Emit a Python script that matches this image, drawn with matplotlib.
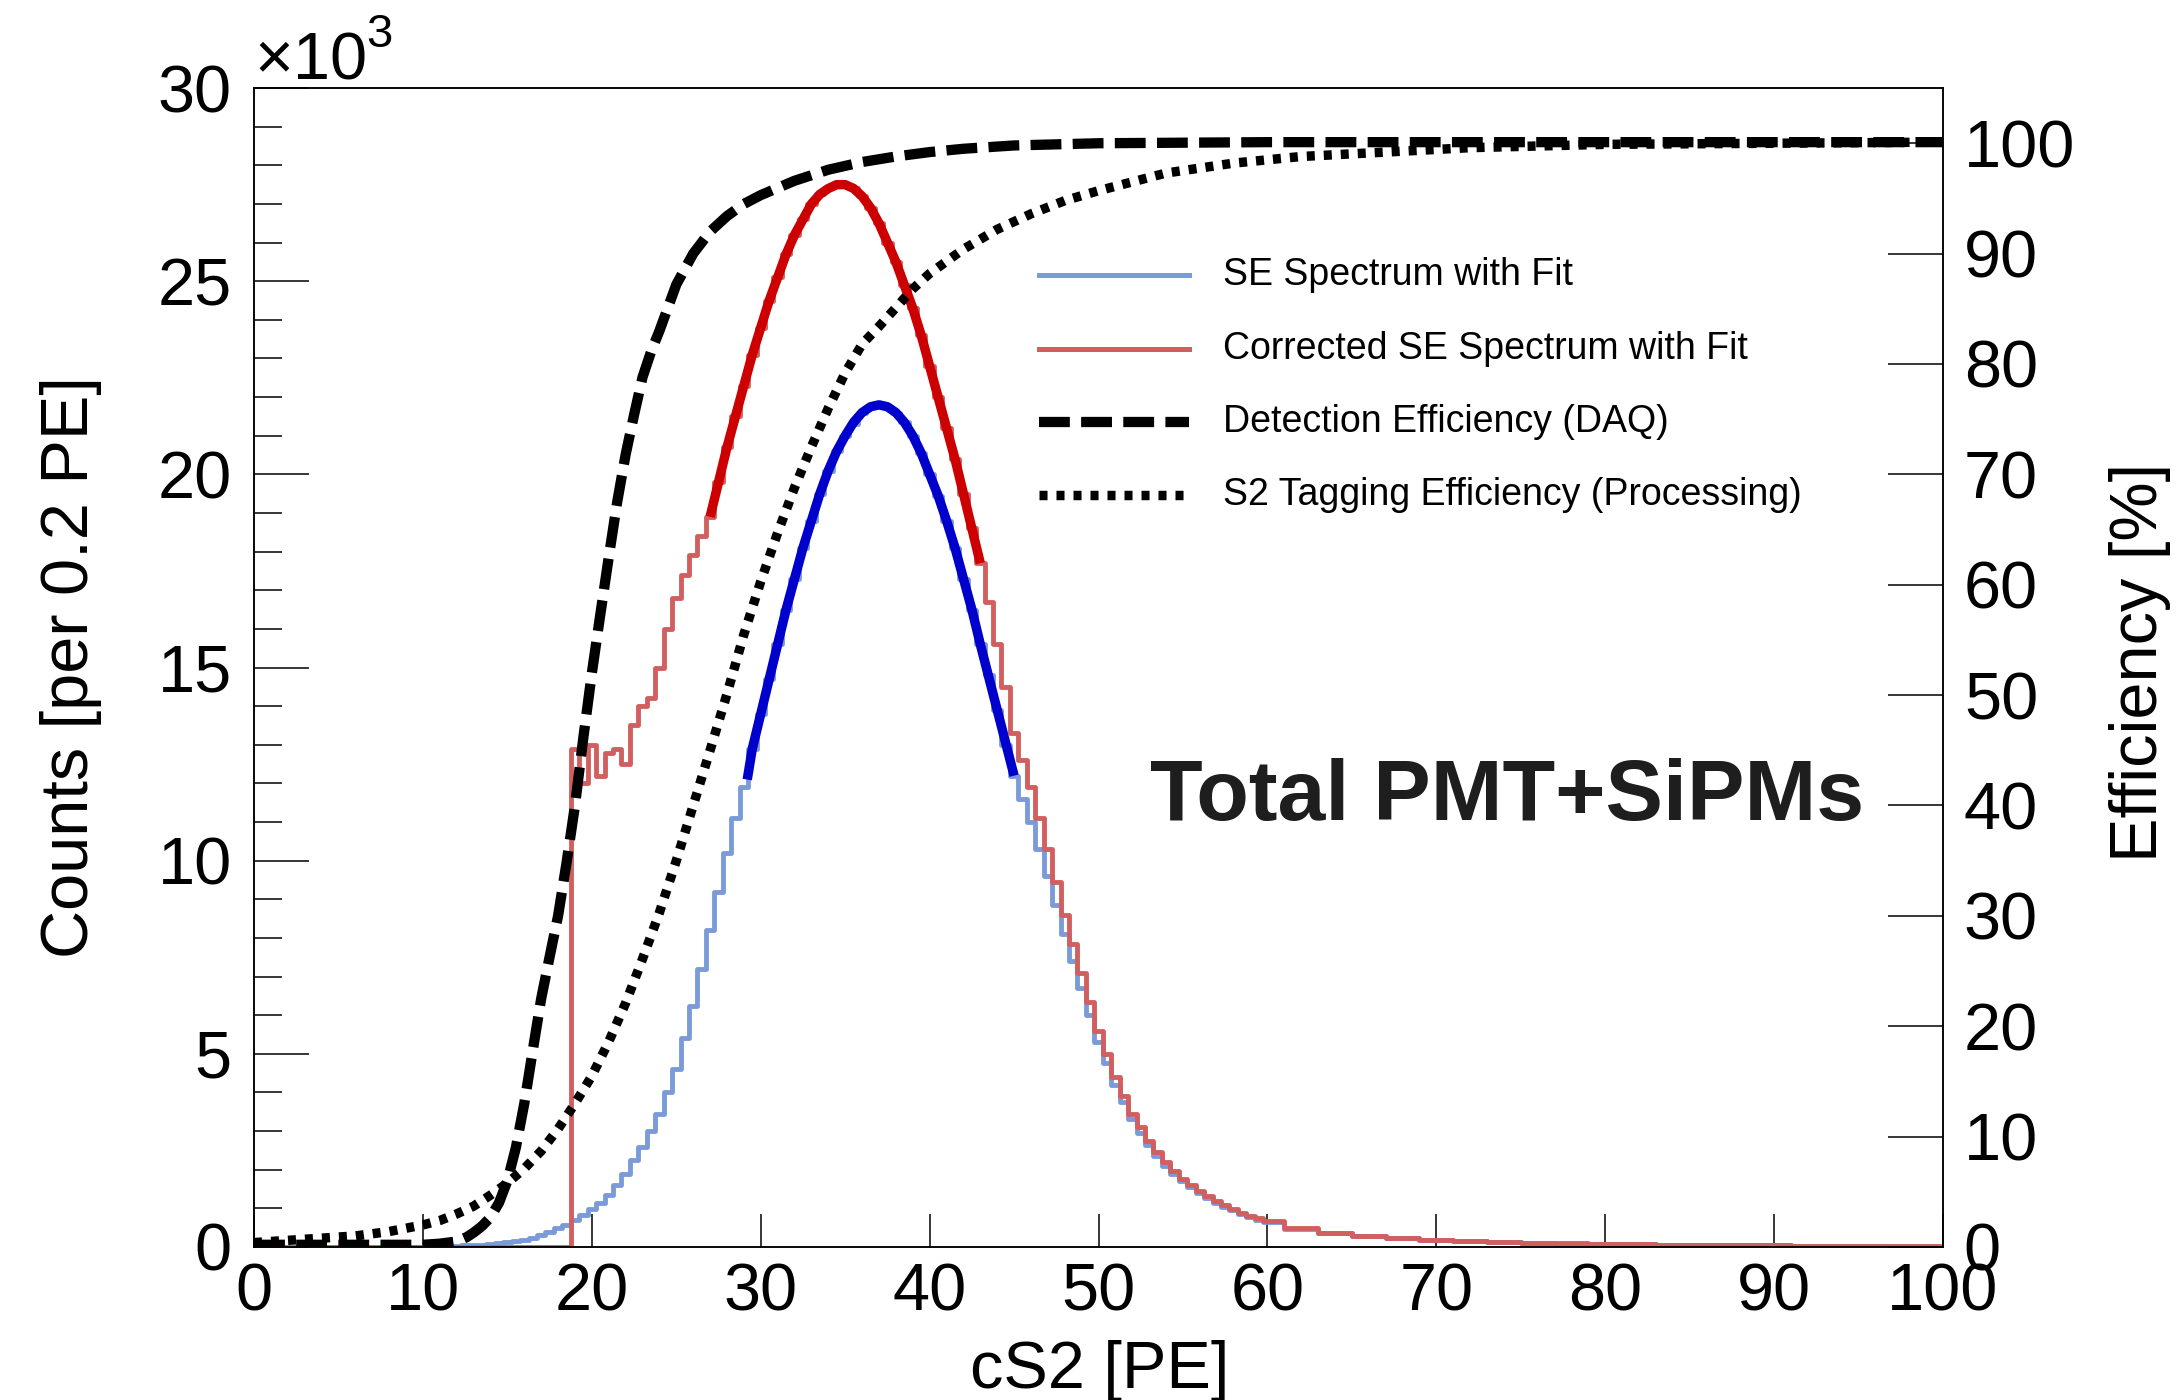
import numpy as np
import matplotlib
matplotlib.use("Agg")
import matplotlib.pyplot as plt
from matplotlib.lines import Line2D

plt.rcParams["font.family"] = ["Liberation Sans", "DejaVu Sans"]

# bin centres in PE: 1 PE steps below 12, 0.5 PE up to 60, 2 PE in the tail
cs2_bins = np.concatenate([np.arange(0, 12, 1.0),
                           np.arange(12, 60.01, 0.5),
                           np.arange(62, 100.01, 2.0)])

# SE spectrum, counts in units of 10^3
se_counts = [
    0, 0, 0, 0, 0, 0, 0, 0, 0.005, 0.01, 0.01, 0.02,
    0.03, 0.04, 0.05, 0.06, 0.08, 0.10, 0.12, 0.15, 0.19, 0.24,
    0.30, 0.38, 0.48, 0.58, 0.70, 0.84, 0.98, 1.15, 1.35, 1.60,
    1.90, 2.25, 2.60, 3.00, 3.45, 4.00, 4.60, 5.40, 6.25, 7.20,
    8.20, 9.20, 10.20, 11.10, 11.90, 12.90, 13.80, 14.70, 15.60, 16.50,
    17.30, 18.10, 18.80, 19.50, 20.10, 20.60, 21.00, 21.30, 21.60, 21.75,
    21.80, 21.75, 21.60, 21.35, 21.00, 20.55, 20.00, 19.45, 18.80, 18.10,
    17.30, 16.50, 15.60, 14.80, 13.90, 13.00, 12.20, 11.60, 11.00, 10.30,
    9.60, 8.85, 8.10, 7.40, 6.70, 6.00, 5.30, 4.75, 4.20, 3.75,
    3.30, 2.95, 2.65, 2.35, 2.10, 1.90, 1.70, 1.55, 1.40, 1.27,
    1.15, 1.04, 0.95, 0.86, 0.78, 0.71, 0.65,
    0.47, 0.36, 0.28, 0.22, 0.18, 0.15, 0.13, 0.11, 0.09, 0.08,
    0.07, 0.06, 0.05, 0.045, 0.04, 0.035, 0.03, 0.03, 0.025, 0.02,
]

# corrected SE spectrum, counts in units of 10^3
se_corr_counts = [
    0, 0, 0, 0, 0, 0, 0, 0, 0, 0, 0, 0,
    0, 0, 0, 0, 0, 0, 0, 0, 0, 0, 0, 0, 0, 0,
    12.9, 12.0, 13.0, 12.2, 12.8, 12.9, 12.5, 13.5, 14.0, 14.2,
    15.0, 16.0, 16.8, 17.4, 17.9, 18.4, 18.9, 19.8, 20.7, 21.5,
    22.3, 23.1, 23.8, 24.5, 25.1, 25.7, 26.2, 26.6, 27.0, 27.25,
    27.4, 27.5, 27.5, 27.4, 27.2, 26.9, 26.5, 26.0, 25.5, 24.9,
    24.3, 23.6, 22.8, 22.0, 21.2, 20.4, 19.5, 18.6, 17.7, 16.7,
    15.6, 14.5, 13.3, 12.6, 11.9, 11.1, 10.3, 9.45, 8.6, 7.85,
    7.1, 6.35, 5.6, 5.0, 4.4, 3.9, 3.45, 3.1, 2.75, 2.45,
    2.2, 1.97, 1.75, 1.6, 1.45, 1.31, 1.19, 1.08, 0.98, 0.89,
    0.81, 0.74, 0.68,
    0.49, 0.37, 0.29, 0.23, 0.19, 0.16, 0.13, 0.11, 0.095, 0.08,
    0.07, 0.06, 0.05, 0.045, 0.04, 0.035, 0.03, 0.03, 0.025, 0.02,
]

# fits to the two spectra
se_fit_x = [29.2, 29.5, 30, 30.5, 31, 31.5, 32, 32.5, 33, 33.5, 34, 34.5, 35, 35.5,
            36, 36.5, 37, 37.5, 38, 38.5, 39, 39.5, 40, 40.5, 41, 41.5, 42, 42.5,
            43, 43.5, 44, 44.5, 45]
se_fit_y = [12.1, 12.9, 13.8, 14.7, 15.6, 16.5, 17.3, 18.1, 18.8, 19.5, 20.1, 20.6, 21.0, 21.35,
            21.6, 21.75, 21.8, 21.75, 21.6, 21.35, 21.0, 20.55, 20.0, 19.45, 18.8, 18.1, 17.3, 16.5,
            15.6, 14.75, 13.9, 13.05, 12.2]
corr_fit_x = [27.0, 27.5, 28, 28.5, 29, 29.5, 30, 30.5, 31, 31.5, 32, 32.5, 33, 33.5,
              34, 34.5, 35, 35.5, 36, 36.5, 37, 37.5, 38, 38.5, 39, 39.5, 40, 40.5,
              41, 41.5, 42, 42.5, 43]
corr_fit_y = [18.9, 19.8, 20.7, 21.5, 22.3, 23.1, 23.8, 24.5, 25.1, 25.7, 26.2, 26.6, 27.0, 27.25,
              27.4, 27.5, 27.5, 27.4, 27.2, 26.9, 26.5, 26.0, 25.5, 24.9, 24.3, 23.6, 22.8, 22.0,
              21.2, 20.4, 19.5, 18.6, 17.7]

# efficiencies in %
daq_x = [0, 2, 4, 6, 8, 10, 11, 12, 12.6, 13, 13.5, 14, 14.5, 15, 15.5, 16, 16.5, 17,
         17.5, 18, 18.5, 19, 19.5, 20, 20.5, 21, 21.5, 22, 22.5, 23, 23.5, 24, 25, 26,
         27, 28, 29, 30, 32, 34, 36, 38, 40, 42, 45, 50, 60, 70, 80, 90, 100]
daq_eff = [0.2, 0.2, 0.2, 0.2, 0.2, 0.2, 0.3, 0.5, 0.9, 1.3, 1.9, 2.7, 4.0, 6.0, 9.0, 13.0, 17.8, 22.5,
           26.3, 30.0, 34.8, 40.0, 46.2, 52.0, 57.3, 62.5, 67.5, 71.8, 75.4, 78.8, 81.1, 83.0, 87.2, 90.0,
           92.0, 93.4, 94.5, 95.3, 96.6, 97.6, 98.3, 98.8, 99.2, 99.5, 99.8, 100.0, 100.1, 100.1, 100.1, 100.1, 100.1]

tag_x = [0, 2, 4, 6, 8, 10, 11, 12, 13, 14, 15, 16, 17, 18, 19, 20, 21, 22, 23, 24, 25,
         26, 27, 28, 29, 30, 31, 32, 33, 34, 35, 36, 37, 38, 39, 40, 42, 44, 46, 48, 50,
         54, 58, 62, 67, 72, 80, 90, 100]
tag_eff = [0.4, 0.6, 0.8, 1.0, 1.4, 2.0, 2.4, 3.0, 3.7, 4.7, 5.8, 7.1, 8.7, 10.7, 13.0, 15.5, 18.6,
           22.1, 26.1, 30.3, 35.0, 40.0, 45.0, 50.1, 55.5, 60.3, 64.7, 68.8, 72.5, 76.0, 79.2, 81.8,
           83.4, 85.1, 86.8, 88.2, 90.4, 92.2, 93.6, 94.8, 95.7, 97.3, 98.2, 98.8, 99.2, 99.6, 99.9,
           100.0, 100.1]

labels = ["SE Spectrum with Fit", "Corrected SE Spectrum with Fit",
          "Detection Efficiency (DAQ)", "S2 Tagging Efficiency (Processing)"]

blue_hist = "#7a9ad8"
red_hist = "#d15f5f"
dash_style = (0, (3.0, 1.1))
dot_style = (0, (0.85, 0.95))

fig = plt.figure(figsize=(21.79, 14.0), dpi=100)
ax = fig.add_axes([0.1166, 0.1093, 0.7751, 0.8278])

ax.step(cs2_bins, se_counts, where="mid", color=blue_hist, lw=3.5)
ax.step(cs2_bins, se_corr_counts, where="mid", color=red_hist, lw=3.5)
ax.plot(se_fit_x, se_fit_y, color="#0000cc", lw=6.8, solid_capstyle="butt")
ax.plot(corr_fit_x, corr_fit_y, color="#cc0000", lw=6.8, solid_capstyle="butt")

ax.set_xlim(0, 100)
ax.set_ylim(0, 30)
ax.set_xticks(range(0, 101, 10))
ax.set_yticks(range(0, 31, 5))
ax.set_yticks(range(0, 31), minor=True)
ax.tick_params(axis="y", which="major", direction="in", length=39.6, width=1.1,
               labelsize=48, pad=16, right=False)
ax.tick_params(axis="y", which="minor", direction="in", length=20, width=1.1, right=False)
ax.tick_params(axis="x", which="major", direction="in", length=24, width=1.1,
               labelsize=48, pad=11, top=False)

ax2 = ax.twinx()
ax2.plot(daq_x, daq_eff, color="black", lw=7.4, linestyle=dash_style)
ax2.plot(tag_x, tag_eff, color="black", lw=6.8, linestyle=dot_style)
ax2.set_ylim(0, 105)
ax2.set_yticks(range(0, 101, 10))
ax2.tick_params(axis="y", direction="in", length=39.6, width=1.1, labelsize=48, pad=15)

for a in (ax, ax2):
    for s in a.spines.values():
        s.set_linewidth(1.1)

# axis titles
fig.text(0.0325, 0.5235, "Counts [per 0.2 PE]", rotation=90, ha="center", va="center", fontsize=48)
fig.text(0.982, 0.527, "Efficiency [%]", rotation=90, ha="center", va="center", fontsize=48)
fig.text(0.5045, 0.0086, "cS2 [PE]", ha="center", va="baseline", fontsize=48)
fig.text(0.1166, 0.9429, "\u00d710", ha="left", va="baseline", fontsize=48)
fig.text(0.168, 0.9667, "3", ha="left", va="baseline", fontsize=34)

# legend drawn by hand to match the ROOT layout
leg_y = [0.8036, 0.7508, 0.6986, 0.6465]
leg_styles = [dict(color=blue_hist, lw=3.6), dict(color=red_hist, lw=3.6),
              dict(color="black", lw=7.4, linestyle=dash_style),
              dict(color="black", lw=6.8, linestyle=dot_style)]
for y, lab, st in zip(leg_y, labels, leg_styles):
    fig.add_artist(Line2D([0.4768, 0.5457], [y, y], transform=fig.transFigure, **st))
    fig.text(0.5613, y, lab, ha="left", va="center", fontsize=27)

fig.text(0.5278, 0.4143, "Total PMT+SiPMs", ha="left", va="baseline",
         fontsize=62, fontweight="bold", color="#1e1e1e")

fig.savefig("out.png", dpi=100)
